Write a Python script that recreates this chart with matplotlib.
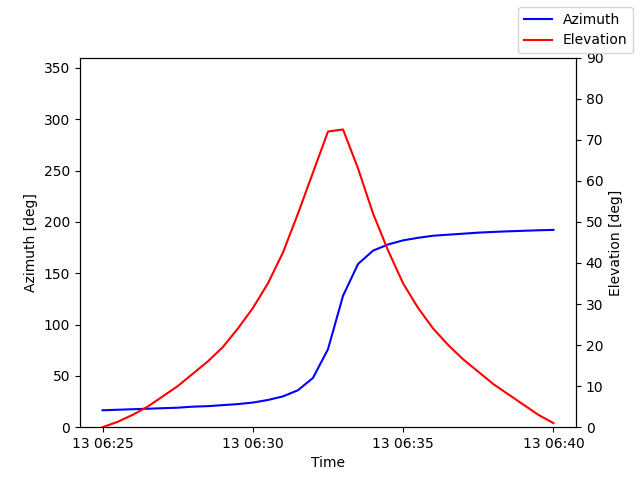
import numpy as np
import pandas as pd
import matplotlib
matplotlib.use('Agg')
import matplotlib.pyplot as plt
import matplotlib.dates as mdates

times = pd.date_range('2023-05-13 06:25:00', '2023-05-13 06:40:00', freq='30s')
azimuth = [16.5, 17, 17.5, 18, 18.5, 19, 20, 20.5, 21.5, 22.5, 24, 26.5, 30, 36, 48, 76,
           128, 159, 172, 178, 182, 184.5, 186.5, 187.5, 188.5, 189.5, 190.2, 190.8,
           191.3, 191.8, 192.2]
elevation = [0, 1.3, 3, 5, 7.5, 10, 13, 16, 19.5, 24, 29, 35, 42.5, 52, 62, 72,
             72.5, 63, 52, 43, 35, 29, 24, 20, 16.5, 13.5, 10.5, 8, 5.5, 3, 1]

fig, ax = plt.subplots(figsize=(6.4, 4.8))
ax2 = ax.twinx()
ax.plot(times, azimuth, color='blue', label='Azimuth')
ax2.plot(times, elevation, color='red', label='Elevation')
ax.set_ylim(0, 360)
ax2.set_ylim(0, 90)
ax2.set_yticks(np.arange(0, 91, 10))
ax.set_xlabel('Time')
ax.set_ylabel('Azimuth [deg]')
ax2.set_ylabel('Elevation [deg]')
ax.xaxis.set_major_locator(mdates.MinuteLocator(byminute=[25, 30, 35, 40]))
ax.xaxis.set_major_formatter(mdates.DateFormatter('%d %H:%M'))
fig.legend(loc='upper right')
fig.subplots_adjust(left=0.125, right=0.9, top=0.88, bottom=0.11)
fig.savefig('out.png', dpi=100)
